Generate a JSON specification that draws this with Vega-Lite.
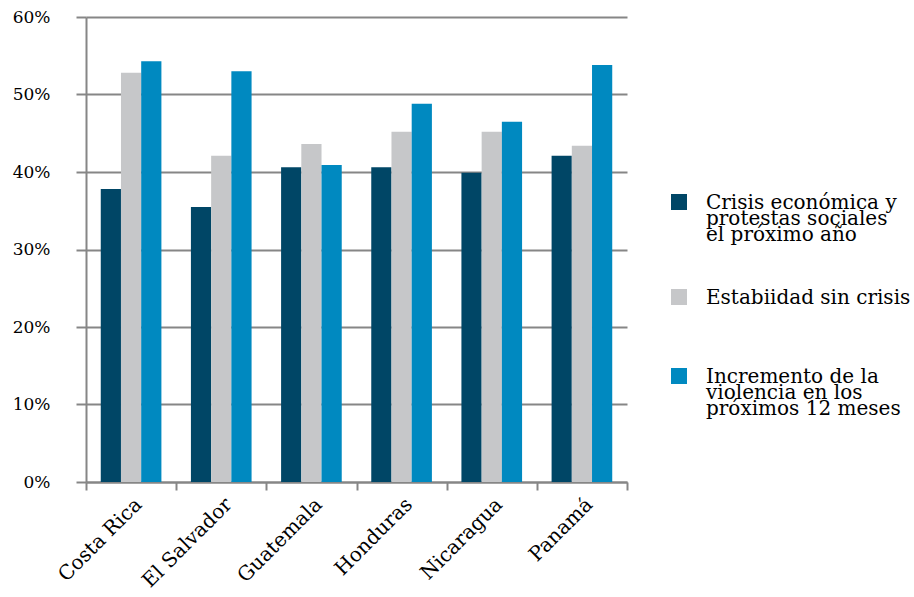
{
  "$schema": "https://vega.github.io/schema/vega-lite/v6.json",
  "autosize": "none",
  "width": 541,
  "height": 465,
  "padding": {"left": 86, "top": 17, "right": 287, "bottom": 115},
  "background": "white",
  "config": {"font": "DejaVu Serif", "view": {"stroke": null}},
  "data": {
    "values": [
      {"pais": "Costa Rica", "serie": "Crisis económica y protestas sociales el próximo año", "valor": 0.378},
      {"pais": "Costa Rica", "serie": "Estabiidad sin crisis", "valor": 0.528},
      {"pais": "Costa Rica", "serie": "Incremento de la violencia en los próximos 12 meses", "valor": 0.543},
      {"pais": "El Salvador", "serie": "Crisis económica y protestas sociales el próximo año", "valor": 0.355},
      {"pais": "El Salvador", "serie": "Estabiidad sin crisis", "valor": 0.421},
      {"pais": "El Salvador", "serie": "Incremento de la violencia en los próximos 12 meses", "valor": 0.530},
      {"pais": "Guatemala", "serie": "Crisis económica y protestas sociales el próximo año", "valor": 0.406},
      {"pais": "Guatemala", "serie": "Estabiidad sin crisis", "valor": 0.436},
      {"pais": "Guatemala", "serie": "Incremento de la violencia en los próximos 12 meses", "valor": 0.409},
      {"pais": "Honduras", "serie": "Crisis económica y protestas sociales el próximo año", "valor": 0.406},
      {"pais": "Honduras", "serie": "Estabiidad sin crisis", "valor": 0.452},
      {"pais": "Honduras", "serie": "Incremento de la violencia en los próximos 12 meses", "valor": 0.488},
      {"pais": "Nicaragua", "serie": "Crisis económica y protestas sociales el próximo año", "valor": 0.399},
      {"pais": "Nicaragua", "serie": "Estabiidad sin crisis", "valor": 0.452},
      {"pais": "Nicaragua", "serie": "Incremento de la violencia en los próximos 12 meses", "valor": 0.465},
      {"pais": "Panamá", "serie": "Crisis económica y protestas sociales el próximo año", "valor": 0.421},
      {"pais": "Panamá", "serie": "Estabiidad sin crisis", "valor": 0.434},
      {"pais": "Panamá", "serie": "Incremento de la violencia en los próximos 12 meses", "valor": 0.538}
    ]
  },
  "mark": {"type": "bar"},
  "encoding": {
    "x": {
      "field": "pais",
      "type": "nominal",
      "sort": ["Costa Rica", "El Salvador", "Guatemala", "Honduras", "Nicaragua", "Panamá"],
      "scale": {"paddingInner": 0, "paddingOuter": 0},
      "axis": {
        "title": null,
        "labelAngle": -45,
        "labelFontSize": 20,
        "labelColor": "#000000",
        "labelPadding": 4,
        "domainColor": "#868686",
        "domainWidth": 2,
        "tickColor": "#868686",
        "tickWidth": 2,
        "tickSize": 8,
        "tickBand": "extent"
      }
    },
    "xOffset": {
      "field": "serie",
      "type": "nominal",
      "sort": ["Crisis económica y protestas sociales el próximo año", "Estabiidad sin crisis", "Incremento de la violencia en los próximos 12 meses"],
      "scale": {"paddingInner": 0, "paddingOuter": 0.73}
    },
    "y": {
      "field": "valor",
      "type": "quantitative",
      "scale": {"domain": [0, 0.6]},
      "axis": {
        "title": null,
        "format": ".0%",
        "values": [0, 0.1, 0.2, 0.3, 0.4, 0.5, 0.6],
        "labelFontSize": 17,
        "labelColor": "#000000",
        "labelPadding": 26,
        "tickSize": 10,
        "tickColor": "#868686",
        "tickWidth": 2,
        "grid": true,
        "gridColor": "#868686",
        "gridWidth": 2,
        "domainColor": "#868686",
        "domainWidth": 2
      }
    },
    "color": {
      "field": "serie",
      "type": "nominal",
      "sort": ["Crisis económica y protestas sociales el próximo año", "Estabiidad sin crisis", "Incremento de la violencia en los próximos 12 meses"],
      "scale": {
        "domain": ["Crisis económica y protestas sociales el próximo año", "Estabiidad sin crisis", "Incremento de la violencia en los próximos 12 meses"],
        "range": ["#004666", "#C6C7C9", "#0089C0"]
      },
      "legend": {
        "title": null,
        "orient": "none",
        "legendX": 583,
        "legendY": 175,
        "symbolType": "square",
        "symbolSize": 256,
        "symbolStrokeWidth": 0,
        "symbolOpacity": 1,
        "labelFontSize": 20,
        "labelColor": "#000000",
        "labelOffset": 17,
        "labelLimit": 300,
        "labelBaseline": "top",
        "rowPadding": 42,
        "labelExpr": "datum.label == 'Estabiidad sin crisis' ? ['Estabiidad sin crisis', ' '] : (datum.label == 'Crisis económica y protestas sociales el próximo año' ? ['Crisis económica y', 'protestas sociales', 'el próximo año'] : ['Incremento de la', 'violencia en los', 'próximos 12 meses'])",
        "encode": {"labels": {"update": {"lineHeight": {"value": 16}, "dy": {"value": -9}}}}
      }
    }
  }
}
